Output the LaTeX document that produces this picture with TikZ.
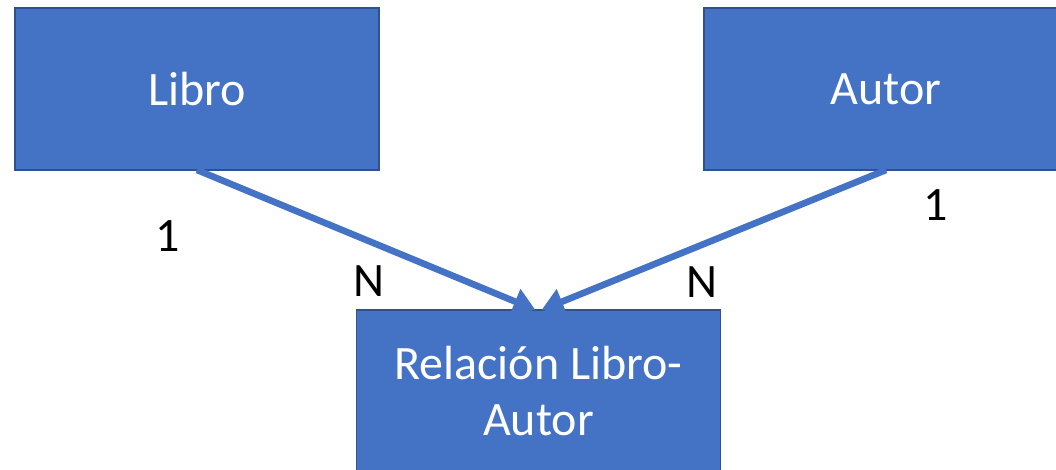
\documentclass[tikz,border=0pt]{standalone}
\usepackage{fontspec}
\setmainfont{Carlito}
\usetikzlibrary{arrows.meta}
\definecolor{boxblue}{HTML}{4472C4}
\definecolor{boxedge}{HTML}{2F528F}
\begin{document}
\begin{tikzpicture}[x=0.5pt,y=-0.5pt,
  entity/.style={draw=boxedge, line width=0.8pt, fill=boxblue, text=white,
    minimum width=182pt, minimum height=81pt, inner sep=0pt, outer sep=0pt,
    font=\fontsize{24}{28}\selectfont, align=center},
  card/.style={font=\fontsize{24}{28}\selectfont, text=black, inner sep=0pt},
  link/.style={draw=boxblue, line width=3.3pt, -{Triangle[length=11pt,width=13pt]}}]
\useasboundingbox (0,0) rectangle (1056,470);
\clip (0,0) rectangle (1056,470);
\fill[white] (0,0) rectangle (1056,470);
\node[entity] (libro) at (197,89) {Libro};
\node[entity] (autor) at (886,89) {Autor};
\node[entity, anchor=north] (rel) at (538.5,310) {Relación Libro-\\Autor};
\draw[link] (libro.south) -- ([xshift=-1.5pt]rel.north);
\draw[link] (autor.south) -- ([xshift=1.5pt]rel.north);
\node[card] (c1) at (168,236) {1};
\node[card] (n1) at (369,281) {N};
\node[card] (n2) at (702,282) {N};
\node[card] (c2) at (936,205) {1};
\end{tikzpicture}
\end{document}
